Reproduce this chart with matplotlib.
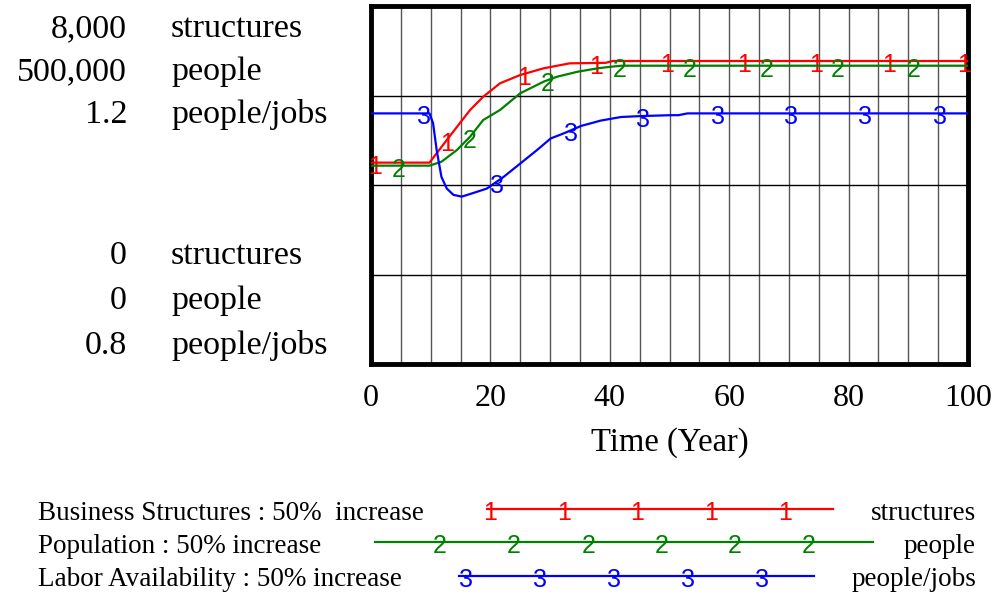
import numpy as np
import matplotlib
matplotlib.use("Agg")
import matplotlib.pyplot as plt
from matplotlib.transforms import offset_copy

# ---------------- data ----------------
t_struct = [0, 9.8, 12.7, 14.9, 16.6, 18.8, 21.6, 25, 28.9, 33.3, 39.3, 40.5, 100]
v_struct = [4500, 4500, 5006, 5385, 5676, 5973, 6272, 6458, 6607, 6719, 6730, 6771, 6771]

t_pop = [0, 9.8, 11.8, 14.4, 16.6, 18.8, 21.6, 25, 28.9, 31.2, 34.6, 38, 40.2, 42, 100]
v_pop = [277000, 277000, 282500, 298900, 317500, 340800, 354700, 378100, 394300,
         401300, 408200, 413000, 415200, 416600, 416600]

t_labor = [0, 9.8, 10.4, 11, 11.8, 12.7, 13.8, 15.2, 17.1, 19.4, 22.2, 25, 27.8, 30.1,
           32.4, 35.2, 38.5, 41.9, 45.2, 50.2, 51.5, 53, 100]
v_labor = [1.080, 1.080, 1.069, 1.039, 1.009, 0.996, 0.989, 0.987, 0.991, 0.996, 1.009,
           1.024, 1.039, 1.052, 1.058, 1.066, 1.072, 1.076, 1.077, 1.078, 1.078, 1.080, 1.080]

mark_t_struct = [0.7, 12.7, 25.6, 37.7, 49.6, 62.5, 74.6, 86.8, 99.4]
mark_t_pop = [4.7, 16.6, 29.6, 41.7, 53.4, 66.2, 78.2, 90.9]
mark_t_labor = [8.9, 21.1, 33.5, 45.6, 58.1, 70.4, 82.7, 95.3]

x_ticks = [0, 20, 40, 60, 80, 100]
series_names = ["Business Structures : 50%  increase", "Population : 50% increase",
                "Labor Availability : 50% increase"]
units = ["structures", "people", "people/jobs"]
top_vals = ["8,000", "500,000", "1.2"]
bottom_vals = ["0", "0", "0.8"]
ylims = [(0, 8000), (0, 500000), (0.8, 1.2)]
colors = ["#ff0000", "#008000", "#0000ff"]
digits = ["1", "2", "3"]

SERIF = "Liberation Serif"
SANS = "Liberation Sans"

W, H = 996, 597
fig = plt.figure(figsize=(W / 100, H / 100), dpi=100)

def fx(x):
    return x / W

def fy(y):
    return 1 - y / H

left, right, top, bottom = 371, 968, 6, 364
ax = fig.add_axes([fx(left), fy(bottom), (right - left) / W, (bottom - top) / H])
ax.set_xlim(0, 100)
ax.set_ylim(*ylims[0])
ax.set_xticks(x_ticks)
ax.set_xticklabels([str(v) for v in x_ticks], fontsize=23, family=SERIF)
ax.set_xticks(np.arange(0, 101, 5), minor=True)
ax.set_yticks([2000, 4000, 6000])
ax.set_yticklabels([])
ax.tick_params(axis="both", which="both", length=0)
ax.tick_params(axis="x", pad=14.5)
ax.grid(True, axis="x", which="both", color="#555555", lw=1)
ax.grid(True, axis="y", which="major", color="black", lw=1)
ax.set_axisbelow(True)
for s in ax.spines.values():
    s.set_linewidth(3.5)
    s.set_color("black")
ax.set_xlabel("Time (Year)", fontsize=23.5, family=SERIF, labelpad=10)

ax2 = ax.twinx()
ax2.set_ylim(*ylims[1])
ax3 = ax.twinx()
ax3.set_ylim(*ylims[2])
for a in (ax2, ax3):
    a.set_yticks([])
    for s in a.spines.values():
        s.set_visible(False)

DIG_OFF = -11  # baseline of the digit sits this many pixels below the line

axes = [ax, ax2, ax3]
data = [(t_struct, v_struct, mark_t_struct), (t_pop, v_pop, mark_t_pop),
        (t_labor, v_labor, mark_t_labor)]
for a, (tt, vv, mt), c, d in zip(axes, data, colors, digits):
    a.plot(tt, vv, color=c, lw=1.6, zorder=3)
    tr = offset_copy(a.transData, fig=fig, x=0, y=DIG_OFF, units="dots")
    for m in mt:
        a.text(m, np.interp(m, tt, vv), d, color=c, fontsize=18, family=SANS,
               ha="center", va="baseline", zorder=4, clip_on=False, transform=tr)

# left-margin scale labels (baselines in pixels)
top_base = [37, 80, 123]
bot_base = [264, 309, 354]
for i in range(3):
    fig.text(fx(127), fy(top_base[i]), top_vals[i], ha="right", va="baseline", fontsize=24.5, family=SERIF)
    fig.text(fx(171), fy(top_base[i]), units[i], ha="left", va="baseline", fontsize=24.5, family=SERIF)
    fig.text(fx(127), fy(bot_base[i]), bottom_vals[i], ha="right", va="baseline", fontsize=24.5, family=SERIF)
    fig.text(fx(171), fy(bot_base[i]), units[i], ha="left", va="baseline", fontsize=24.5, family=SERIF)

# legend
leg_line_y = [509, 542, 576]
leg_base = [520, 553, 586]
leg_line = [(487, 833), (375, 873), (459, 814)]
leg_marks = [[490, 564, 637, 711, 785], [440, 514, 589, 662, 735, 809], [466, 540, 614, 688, 762]]
for i in range(3):
    yb = fy(leg_base[i])
    fig.text(fx(38), yb, series_names[i], ha="left", va="baseline", fontsize=19.5, family=SERIF)
    fig.text(fx(976), yb, units[i], ha="right", va="baseline", fontsize=19.5, family=SERIF)
    yl = fy(leg_line_y[i])
    x0, x1 = leg_line[i]
    fig.add_artist(plt.Line2D([fx(x0), fx(x1)], [yl, yl], color=colors[i], lw=1.6,
                              transform=fig.transFigure))
    for mx in leg_marks[i]:
        fig.text(fx(mx), fy(leg_line_y[i] + 11), digits[i], color=colors[i], fontsize=18,
                 family=SANS, ha="center", va="baseline")

fig.savefig("out.png", dpi=100)
